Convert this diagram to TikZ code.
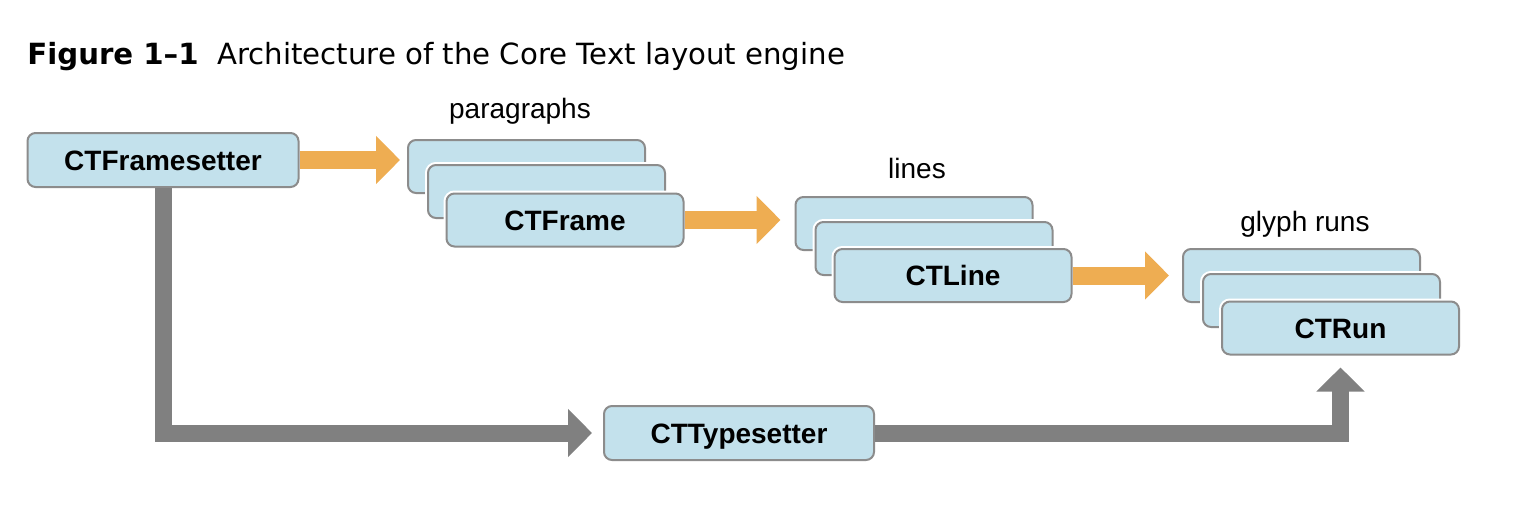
\documentclass[tikz,border=0pt]{standalone}
\usepackage{fontspec}
\setmainfont{Liberation Sans}
\newfontfamily\titlefont{DejaVu Sans}
\usetikzlibrary{arrows.meta}

\definecolor{boxblue}{HTML}{C3E1EC}
\definecolor{boxline}{HTML}{8C8C8C}
\definecolor{flow}{HTML}{EEAD52}
\definecolor{pipe}{HTML}{808080}

\tikzstyle{obj}=[draw=boxline, line width=1pt, fill=boxblue, rounded corners=4pt,
  minimum width=118.5pt, minimum height=26.5pt, text height=10pt, text depth=0pt,
  font=\fontsize{14}{16}\selectfont\bfseries, preaction={draw=white, line width=3pt}]
\tikzstyle{tag}=[anchor=base, font=\fontsize{14}{16}\selectfont]

\begin{document}
\begin{tikzpicture}[x=0.5pt, y=-0.5pt]
\useasboundingbox (0,0) rectangle (1528,514);

\node[anchor=base west, inner sep=0pt, font=\titlefont\fontsize{14.6}{17}\selectfont] (title) at (27,64)
  {\textbf{Figure 1–1}\ \ Architecture of the Core Text layout engine};

\node[obj, minimum width=135.5pt, minimum height=27pt] (fs) at (163, 160) {CTFramesetter};

\node[obj] (p1) at (526.5, 166.5) {};
\node[obj] (p2) at (546.5, 191.5) {};
\node[obj] (frame) at (565, 220) {CTFrame};
\node[tag] (paragraphs) at (520, 118) {paragraphs};

\node[obj] (l1) at (914, 223.5) {};
\node[obj] (l2) at (934, 248.5) {};
\node[obj] (line) at (953, 275.5) {CTLine};
\node[tag] (lines) at (917, 178) {lines};

\node[obj] (g1) at (1301.5, 275.5) {};
\node[obj] (g2) at (1321.5, 300.5) {};
\node[obj] (run) at (1340.5, 328) {CTRun};
\node[tag] (glyphruns) at (1305, 231) {glyph runs};

\node[obj, minimum width=135pt, minimum height=27pt] (ts) at (739, 433) {CTTypesetter};

\begin{scope}[every path/.style={line width=9pt, draw=flow, -{Triangle[width=23.5pt,length=12pt]}}]
       \draw[shorten >=3.5pt] (fs.east) -- (fs.east -| p1.west);
       \draw[shorten >=7pt] (frame.east) -- (frame.east -| l1.west);
       \draw[shorten >=6.5pt] (line.east) -- (line.east -| g1.west);
\end{scope}

\begin{scope}[every path/.style={line width=8.5pt, draw=pipe, -{Triangle[width=23.5pt,length=12pt]}}]
       \draw (fs.south) |- ([xshift=-5.5pt]ts.west);
       \draw (ts.east) -| ([yshift=-6pt]run.south);
\end{scope}
\end{tikzpicture}
\end{document}
